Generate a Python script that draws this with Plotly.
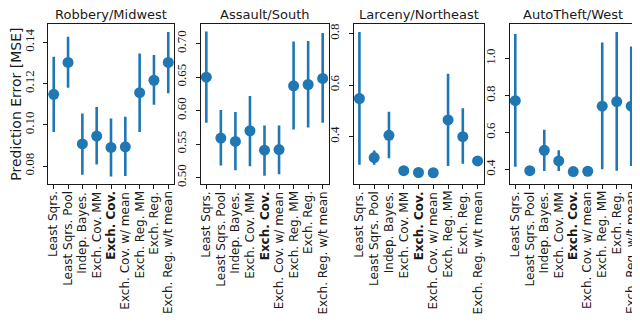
import plotly.graph_objects as go
from plotly.subplots import make_subplots

# 공통 카테고리 (x축)
methods = [
    "Least Sqrs.", "Least Sqrs. Pool", "Indep. Bayes.", "Exch. Cov. MM",
    "<b>Exch. Cov.</b>", "Exch. Cov. w/ mean", "Exch. Reg. MM", "Exch. Reg.",
    "Exch. Reg. w/t mean",
]

panel_titles = ["Robbery/Midwest", "Assault/South", "Larceny/Northeast", "AutoTheft/West"]

# 각 패널: 평균, 하한, 상한
robbery_mean = [0.1148, 0.1302, 0.0908, 0.0946, 0.0891, 0.0894, 0.1156, 0.1216, 0.1302]
robbery_low = [0.0966, 0.1180, 0.0758, 0.0808, 0.0750, 0.0752, 0.0966, 0.1097, 0.1153]
robbery_high = [0.1330, 0.1427, 0.1055, 0.1086, 0.1031, 0.1039, 0.1345, 0.1338, 0.1450]

assault_mean = [0.650, 0.559, 0.554, 0.570, 0.541, 0.542, 0.637, 0.639, 0.648]
assault_low = [0.582, 0.518, 0.511, 0.517, 0.503, 0.505, 0.572, 0.575, 0.582]
assault_high = [0.718, 0.601, 0.598, 0.622, 0.578, 0.578, 0.703, 0.704, 0.716]

larceny_mean = [0.548, 0.319, 0.405, 0.268, 0.261, 0.260, 0.465, 0.400, 0.306]
larceny_low = [0.291, 0.291, 0.316, 0.262, 0.256, 0.255, 0.286, 0.295, 0.300]
larceny_high = [0.806, 0.346, 0.497, 0.274, 0.266, 0.265, 0.644, 0.510, 0.312]

autotheft_mean = [0.773, 0.394, 0.504, 0.447, 0.389, 0.391, 0.743, 0.768, 0.743]
autotheft_low = [0.415, 0.388, 0.393, 0.393, 0.384, 0.386, 0.402, 0.394, 0.420]
autotheft_high = [1.133, 0.400, 0.616, 0.504, 0.394, 0.396, 1.087, 1.145, 1.066]

panels = [
    (robbery_mean, robbery_low, robbery_high),
    (assault_mean, assault_low, assault_high),
    (larceny_mean, larceny_low, larceny_high),
    (autotheft_mean, autotheft_low, autotheft_high),
]

# 페이지 기본 여백(8px)을 고려해 그림 크기를 줄임
W, H = 632, 328
x_px = [(40, 166), (192.5, 320.5), (345.5, 475.5), (501.5, 629)]
y_px = (16, 178)
y_ranges = [[0.0712, 0.1489], [0.490, 0.7295], [0.215, 0.8375], [0.32, 1.1885]]
y_ticks = [(0.02, ".2f"), (0.05, ".2f"), (0.2, ".1f"), (0.2, ".1f")]

blue = "#1f77b4"
ink = "#1a1a1a"
serif = "Liberation Serif"
sans = "DejaVu Sans"

fig = make_subplots(rows=1, cols=4)

for i, (m, lo, hi) in enumerate(panels):
    fig.add_trace(
        go.Scatter(
            x=list(range(len(methods))),
            y=m,
            mode="markers",
            marker=dict(color=blue, size=11),
            error_y=dict(
                type="data",
                symmetric=False,
                array=[h - v for h, v in zip(hi, m)],
                arrayminus=[v - l for v, l in zip(m, lo)],
                color=blue,
                thickness=2.6,
                width=0,
            ),
            showlegend=False,
        ),
        row=1, col=i + 1,
    )

    xd = [x_px[i][0] / W, x_px[i][1] / W]
    yd = [(H - y_px[1]) / H, (H - y_px[0]) / H]
    dt, fmt = y_ticks[i]
    fig.update_xaxes(
        domain=xd, range=[-0.4, 8.4],
        tickmode="array", tickvals=list(range(len(methods))),
        showticklabels=False,
        ticks="outside", ticklen=4, tickcolor=ink,
        showline=True, mirror=True, linecolor=ink, linewidth=1,
        showgrid=False, zeroline=False,
        row=1, col=i + 1,
    )
    fig.update_yaxes(
        domain=yd, range=y_ranges[i],
        dtick=dt, tick0=0, tickformat=fmt,
        tickangle=-90, ticks="outside", ticklen=4, tickcolor=ink,
        ticklabelstandoff=4,
        showline=True, mirror=True, linecolor=ink, linewidth=1,
        showgrid=False, zeroline=False,
        tickfont=dict(family=serif, size=13, color=ink),
        row=1, col=i + 1,
    )
    fig.add_annotation(
        text=panel_titles[i], xref="paper", yref="paper",
        x=(xd[0] + xd[1]) / 2, y=(H - y_px[0] + 1) / H,
        xanchor="center", yanchor="bottom", showarrow=False, borderpad=0,
        font=dict(family=sans, size=13, color=ink),
    )
    # 카테고리 라벨 (세로 회전, 눈금 중앙 정렬)
    xref = "x" if i == 0 else f"x{i + 1}"
    for k, name in enumerate(methods):
        fig.add_annotation(
            text=name, xref=xref, yref="paper",
            x=k, y=(H - y_px[1] - 6) / H,
            xanchor="center", yanchor="top", textangle=-90,
            showarrow=False, borderpad=0,
            font=dict(family=sans, size=12, color=ink),
        )

fig.update_yaxes(
    title=dict(text="Prediction Error [MSE]", standoff=1,
               font=dict(family=sans, size=14, color=ink)),
    row=1, col=1,
)

fig.update_layout(
    width=W, height=H,
    margin=dict(l=0, r=0, t=0, b=0),
    plot_bgcolor="white", paper_bgcolor="white",
)

fig.write_html("out.html")
